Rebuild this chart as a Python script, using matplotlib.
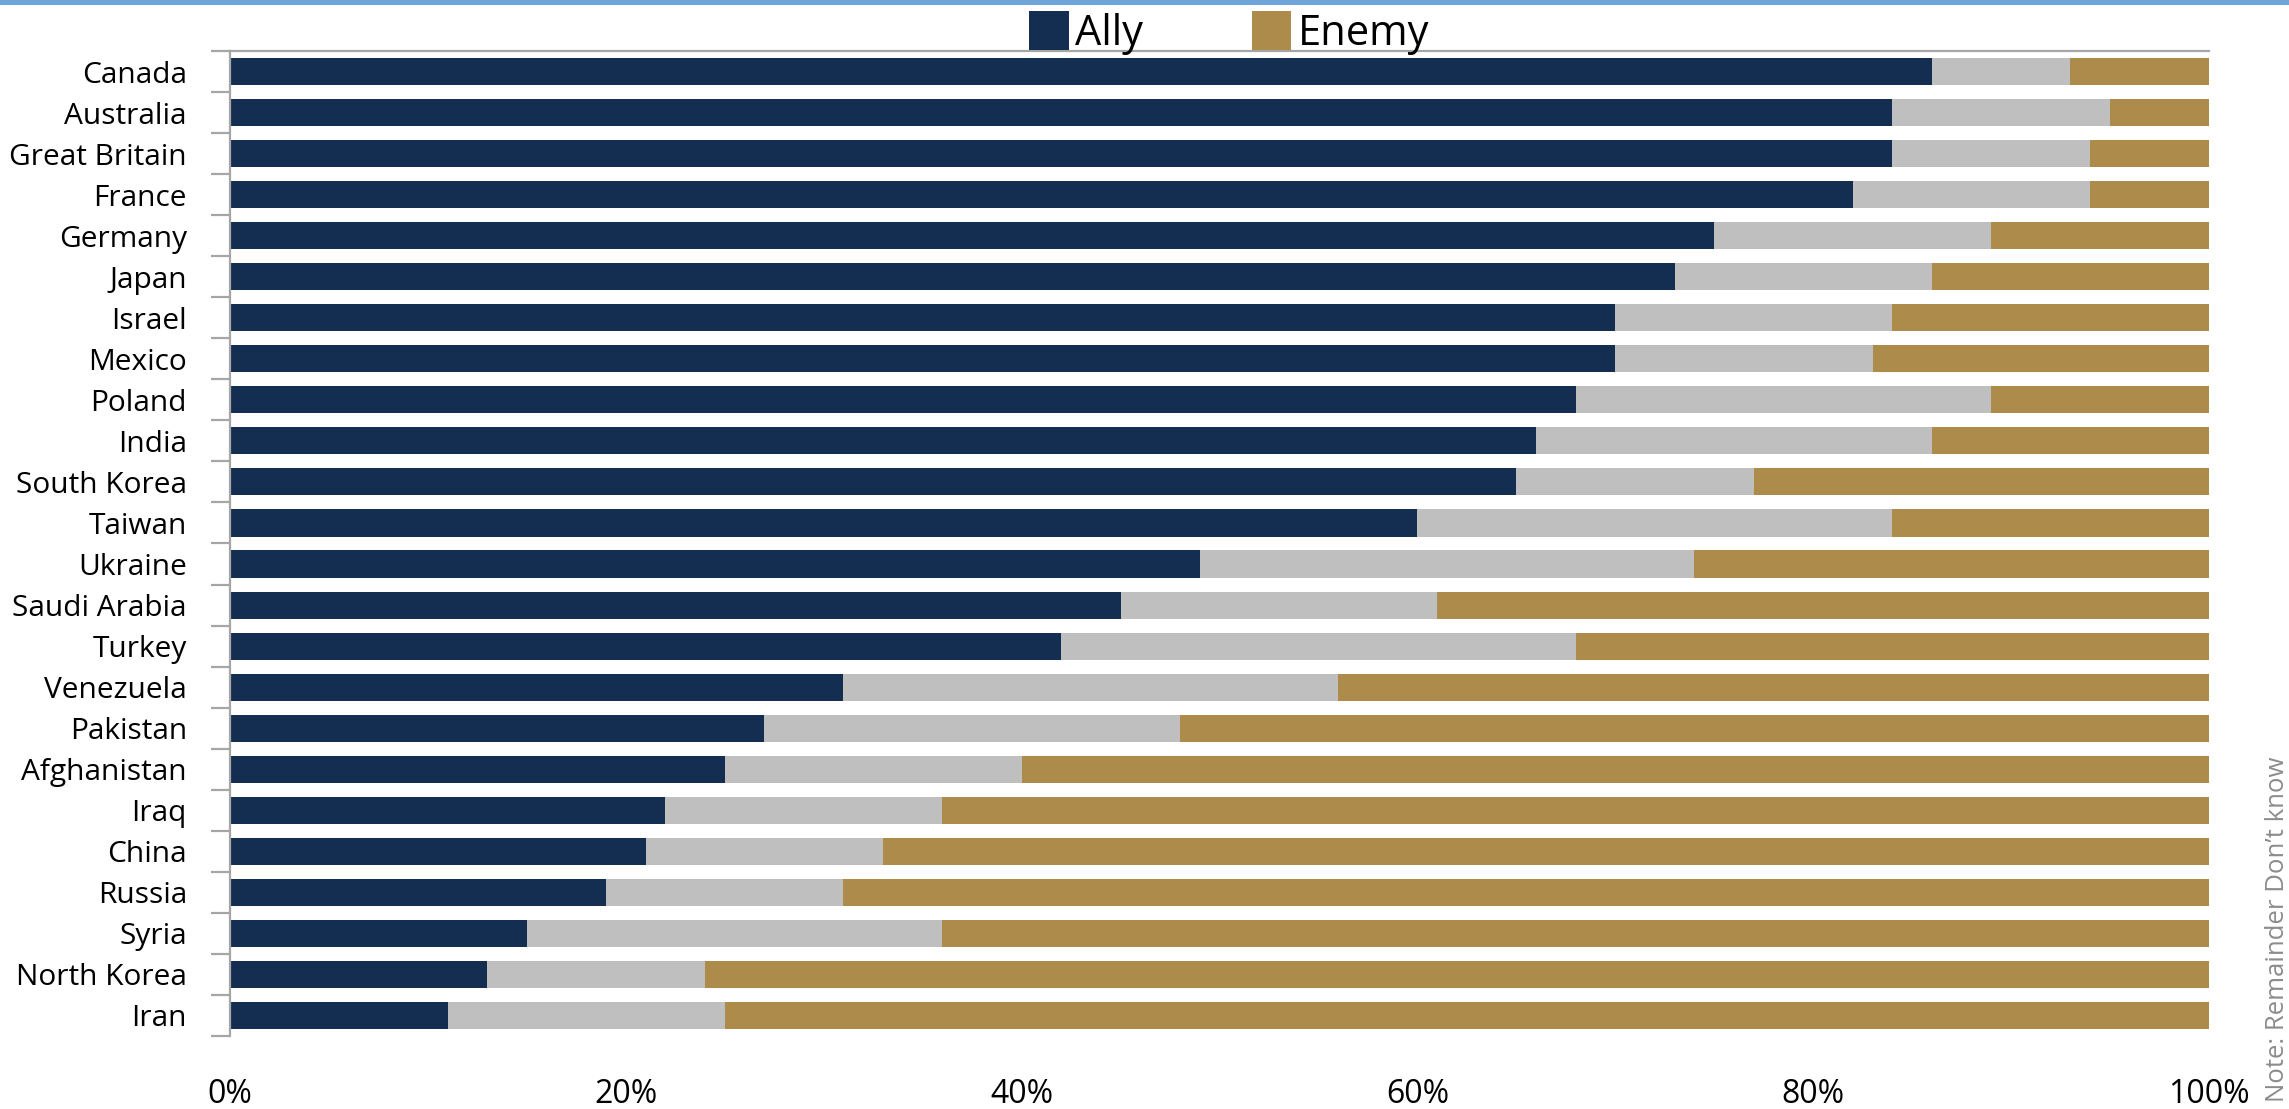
import matplotlib
matplotlib.use("Agg")
import matplotlib.pyplot as plt
from matplotlib.patches import Patch
import numpy as np

plt.rcParams['font.family'] = ['Open Sans', 'DejaVu Sans']

countries = ["Canada", "Australia", "Great Britain", "France", "Germany", "Japan",
             "Israel", "Mexico", "Poland", "India", "South Korea", "Taiwan",
             "Ukraine", "Saudi Arabia", "Turkey", "Venezuela", "Pakistan",
             "Afghanistan", "Iraq", "China", "Russia", "Syria", "North Korea", "Iran"]
ally = [86, 84, 84, 82, 75, 73, 70, 70, 68, 66, 65, 60,
        49, 45, 42, 31, 27, 25, 22, 21, 19, 15, 13, 11]
dont_know = [7, 11, 10, 12, 14, 13, 14, 13, 21, 20, 12, 24,
             25, 16, 26, 25, 21, 15, 14, 12, 12, 21, 11, 14]
enemy = [7, 5, 6, 6, 11, 14, 16, 17, 11, 14, 23, 16,
         26, 39, 32, 44, 52, 60, 64, 67, 69, 64, 76, 75]
x_ticks = [0, 20, 40, 60, 80, 100]

NAVY = "#142e52"
GOLD = "#ad8c4b"
GREY = "#bfbfbf"
AXIS = "#a6a6a6"

fig = plt.figure(figsize=(22.89, 11.09), dpi=100)
ax = fig.add_axes([230 / 2289, 1 - 1036 / 1109, (2209 - 230) / 2289, (1036 - 51) / 1109])

y = np.arange(len(countries))
ally_a = np.array(ally, dtype=float)
dk_a = np.array(dont_know, dtype=float)
en_a = np.array(enemy, dtype=float)
h = 0.66
ax.barh(y, ally_a, height=h, color=NAVY, linewidth=0)
ax.barh(y, dk_a, left=ally_a, height=h, color=GREY, linewidth=0)
ax.barh(y, en_a, left=ally_a + dk_a, height=h, color=GOLD, linewidth=0)

ax.set_xlim(0, 100)
ax.set_ylim(len(countries) - 0.5, -0.5)

ax.set_yticks(y)
ax.set_yticklabels(countries, fontsize=21.5)
ax.set_yticks(np.arange(len(countries) + 1) - 0.5, minor=True)
ax.tick_params(axis='y', which='major', length=0, pad=31)
ax.tick_params(axis='y', which='minor', length=13.7, width=1.6, color=AXIS)

ax.set_xticks(x_ticks)
ax.set_xticklabels([f"{v}%" for v in x_ticks], fontsize=23)
ax.tick_params(axis='x', length=0, pad=30)

for side in ("right", "bottom"):
    ax.spines[side].set_visible(False)
ax.spines["left"].set_color(AXIS)
ax.spines["left"].set_linewidth(1.6)
ax.spines["top"].set_color(AXIS)
ax.spines["top"].set_linewidth(1.6)

handles = [Patch(facecolor=NAVY, label="Ally"), Patch(facecolor=GOLD, label="Enemy")]
fig.legend(handles=handles, loc="center", bbox_to_anchor=(0.537, 0.970), ncol=2,
           frameon=False, fontsize=30, handlelength=0.95, handleheight=1.05,
           handletextpad=0.15, columnspacing=2.6, borderaxespad=0, borderpad=0)

# accent strip along the top edge
fig.add_artist(plt.Rectangle((0, 1 - 5 / 1109), 1, 5 / 1109, transform=fig.transFigure,
                             color="#6fa3dc", linewidth=0))

fig.text(2277 / 2289, 1 - 1102 / 1109, "Note: Remainder Don\u2019t know", rotation=90,
         ha="center", va="bottom", fontsize=18.5, color="#8c8c8c")

fig.savefig("out.png", dpi=100)
